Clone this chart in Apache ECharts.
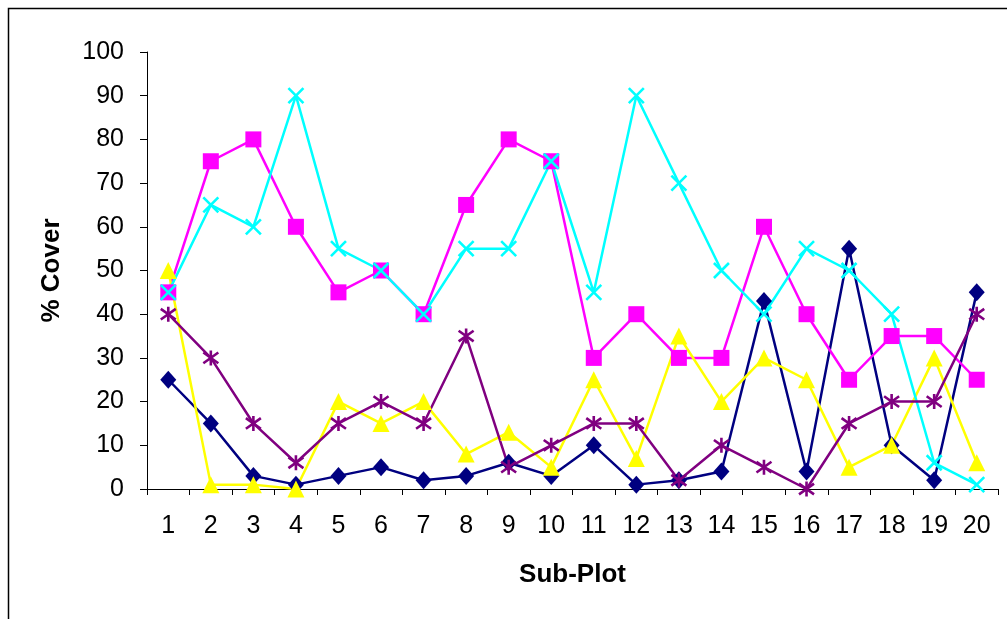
<!DOCTYPE html>
<html><head><meta charset="utf-8">
<script src="https://cdn.jsdelivr.net/npm/echarts@6/dist/echarts.min.js"></script>
<style>html,body{margin:0;padding:0;background:#fff}#c{width:1007px;height:619px}</style>
</head><body><div id="c"></div>
<script>
var categories = ['1','2','3','4','5','6','7','8','9','10','11','12','13','14','15','16','17','18','19','20'];
var navy    = [25,15,3,1,3,5,2,3,6,3,10,1,2,4,43,4,55,10,2,45];
var magenta = [45,75,80,60,45,50,40,65,80,75,30,40,30,30,60,40,25,35,35,25];
var yellow  = [50,1,1,0,20,15,20,8,13,5,25,7,35,20,30,25,5,10,30,6];
var cyan    = [45,65,60,90,55,50,40,55,55,75,45,90,70,50,40,55,50,40,6,1];
var purple  = [40,30,15,6,15,20,15,35,5,10,15,15,2,10,5,0,15,20,20,40];
var yTicks = {min:0, max:100, interval:10};

var xPath = 'path://M0 0L10 10M10 0L0 10';
var starPath = 'path://M0 0L10 10M10 0L0 10M5 -2L5 12';

function lineSeries(data, color, symbol, size, strokeSym) {
  var s = {
    type:'line', data:data, symbol:symbol, symbolSize:size,
    lineStyle:{color:color, width:2.5},
    itemStyle:{color:color},
    animation:false
  };
  if (strokeSym) {
    s.itemStyle = {color:'rgba(0,0,0,0)', borderColor:color, borderWidth:2.6};
  }
  return s;
}

var chart = echarts.init(document.getElementById('c'), null, {renderer:'canvas'});
chart.setOption({
  backgroundColor:'#fff',
  animation:false,
  graphic:[{type:'rect', shape:{x:8.5,y:8.5,width:1020,height:640}, style:{fill:'none', stroke:'#000', lineWidth:1.5}, silent:true}],
  grid:{left:147, right:9, top:52, bottom:130},
  xAxis:{
    type:'category', data:categories, boundaryGap:true,
    axisLine:{lineStyle:{color:'#000', width:1}},
    axisTick:{show:true, inside:false, length:6, lineStyle:{color:'#000'}},
    axisLabel:{color:'#000', fontFamily:'Liberation Sans', fontSize:25, margin:25},
    name:'Sub-Plot', nameLocation:'middle', nameGap:73,
    nameTextStyle:{color:'#000', fontFamily:'Liberation Sans', fontSize:26, fontWeight:'bold'}
  },
  yAxis:{
    type:'value', min:yTicks.min, max:yTicks.max, interval:yTicks.interval,
    axisLine:{show:true, lineStyle:{color:'#000', width:1}},
    axisTick:{show:true, inside:false, length:7, lineStyle:{color:'#000'}},
    splitLine:{show:false},
    axisLabel:{color:'#000', fontFamily:'Liberation Sans', fontSize:25, margin:23},
    name:'% Cover', nameLocation:'middle', nameGap:82, nameRotate:90,
    nameTextStyle:{color:'#000', fontFamily:'Liberation Sans', fontSize:26, fontWeight:'bold'}
  },
  series:[
    lineSeries(navy, '#000080', 'diamond', [16,18], false),
    lineSeries(magenta, '#FF00FF', 'rect', 16, false),
    lineSeries(yellow, '#FFFF00', 'triangle', 17, false),
    lineSeries(cyan, '#00FFFF', xPath, 15, true),
    lineSeries(purple, '#800080', starPath, 15, true)
  ]
});
</script></body></html>
